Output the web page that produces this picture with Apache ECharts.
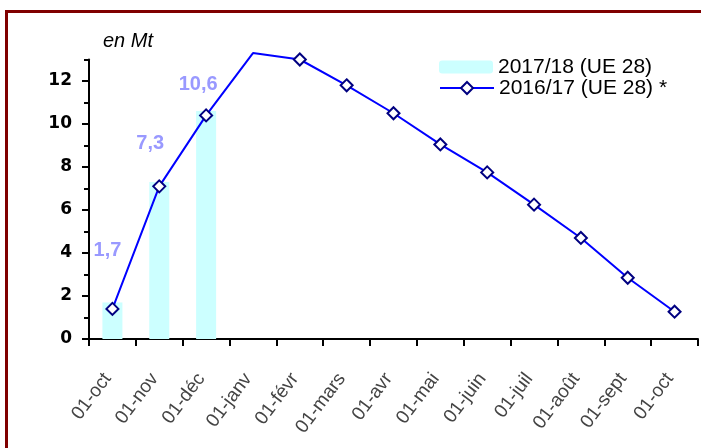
<!DOCTYPE html>
<html>
<head>
<meta charset="utf-8">
<script src="https://cdn.jsdelivr.net/npm/echarts@6/dist/echarts.min.js"></script>
<style>
  html, body { margin: 0; padding: 0; background: #fff; }
  #chart { width: 701px; height: 448px; }
</style>
</head>
<body>
<div id="chart"></div>
<script>
// Data
var months = ['01-oct', '01-nov', '01-déc', '01-janv', '01-févr', '01-mars', '01-avr',
  '01-mai', '01-juin', '01-juil', '01-août', '01-sept', '01-oct'];
var stock1718 = [1.7, 7.3, 10.6];
var stock1617 = [1.4, 7.1, 10.4, 13.3, 13.0, 11.8, 10.5, 9.05, 7.75, 6.25, 4.7, 2.85, 1.27];
var yLabelValues = [0, 2, 4, 6, 8, 10, 12];
var seriesNames = ['2017/18 (UE 28)', '2016/17 (UE 28) *'];

var chart = echarts.init(document.getElementById('chart'), null, {renderer: 'canvas'});

// bar labels were moved by hand in the original, nudge them the same way
var nudges = [[-5, -37], [-9, -24], [-8, -12]];
var barData = stock1718.map(function (v, i) {
  return {value: v, label: {offset: nudges[i]}};
});

// the january point has no marker
var lineData = stock1617.map(function (v, i) {
  return i === 3 ? {value: v, symbol: 'none'} : v;
});

var axisLine = {show: true, lineStyle: {color: '#000', width: 2}};
var legendText = {fontFamily: 'Liberation Sans', fontSize: 21, color: '#000', lineHeight: 21};

var option = {
  animation: false,
  grid: {left: 89, right: 3, top: 59.5, bottom: 109},
  graphic: [
    {
      type: 'rect',
      shape: {x: 6.5, y: 11.5, width: 720, height: 460},
      style: {fill: 'none', stroke: '#800000', lineWidth: 3}
    },
    {
      type: 'text',
      left: 103, top: 31,
      style: {text: 'en Mt', font: 'italic 20px "Liberation Sans", Arial', fill: '#000'}
    }
  ],
  // two legends so the line entry can get a bigger marker
  legend: [
    {
      left: 439, top: 56.5, padding: 0,
      itemWidth: 54, itemHeight: 13,
      textStyle: legendText,
      data: [seriesNames[0]]
    },
    {
      left: 439, top: 77.5, padding: 0,
      itemWidth: 54, itemHeight: 15,
      textStyle: legendText,
      data: [seriesNames[1]]
    }
  ],
  xAxis: {
    type: 'category',
    data: months,
    boundaryGap: true,
    axisLine: axisLine,
    axisTick: {show: true, length: 7, inside: false, lineStyle: {color: '#000', width: 2}},
    axisLabel: {
      rotate: 53, margin: 30, interval: 0, padding: [0, 8, 0, 0],
      fontFamily: '"Liberation Sans Narrow", "Liberation Sans"', fontSize: 19, color: '#444'
    },
    splitLine: {show: false}
  },
  yAxis: [
    {
      type: 'value', min: 0, max: 13, interval: 1,
      axisLine: axisLine,
      axisTick: {show: true, length: 5, lineStyle: {color: '#000', width: 2}},
      axisLabel: {
        customValues: yLabelValues, margin: 17,
        fontFamily: 'DejaVu Sans', fontSize: 17, fontWeight: 'bold', color: '#000'
      },
      splitLine: {show: false}
    },
    {
      type: 'value', min: 0, max: 13, position: 'left',
      axisLine: {show: false},
      axisTick: {show: true, length: 7, customValues: yLabelValues, lineStyle: {color: '#000', width: 2}},
      axisLabel: {show: false},
      splitLine: {show: false}
    }
  ],
  series: [
    {
      name: seriesNames[0],
      type: 'bar',
      data: barData,
      barWidth: 20,
      itemStyle: {color: '#CCFFFF'},
      label: {
        show: true, position: 'top',
        formatter: function (p) { return String(p.value).replace('.', ','); },
        fontFamily: 'Liberation Sans', fontSize: 20, fontWeight: 'bold', color: '#9999FF'
      }
    },
    {
      name: seriesNames[1],
      type: 'line',
      data: lineData,
      clip: false,
      symbol: 'diamond',
      symbolSize: 12,
      lineStyle: {color: '#0000FF', width: 2},
      itemStyle: {color: '#fff', borderColor: '#000080', borderWidth: 2},
      z: 3
    }
  ]
};

chart.setOption(option);
</script>
</body>
</html>
